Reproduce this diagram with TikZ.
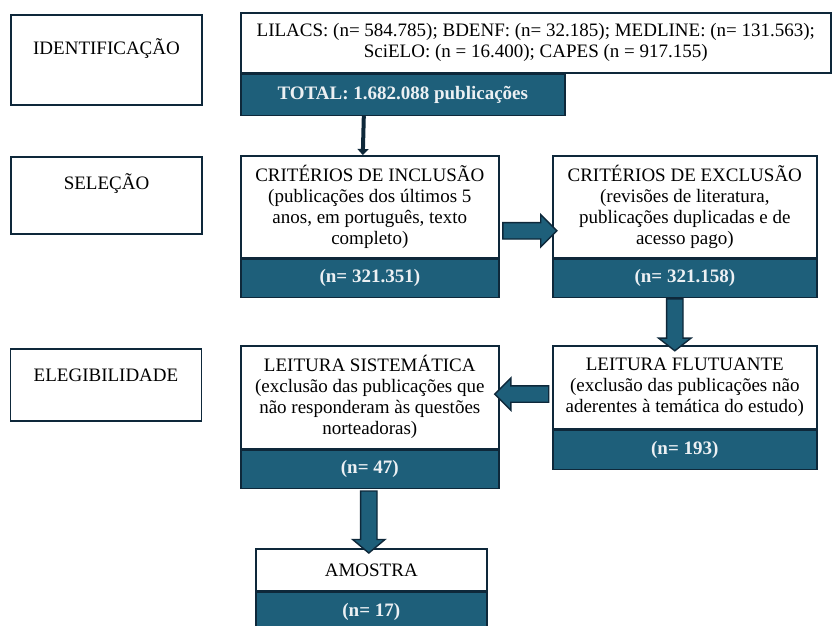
\documentclass[tikz,border=0pt]{standalone}
\usepackage{fontspec}
\setmainfont{Liberation Serif}
\usetikzlibrary{positioning,calc,shapes.arrows,arrows.meta}

\definecolor{barblue}{RGB}{30,95,122}
\definecolor{edgenavy}{RGB}{14,40,58}
\definecolor{bartext}{RGB}{236,240,243}

\tikzset{
  stagebox/.style = {draw = edgenavy, line width = 1.6, fill = white, inner sep = 0pt,
                     minimum width = 191, anchor = north, text height = 33},
  infobox/.style  = {draw = edgenavy, line width = 1.6, fill = white, inner sep = 0pt,
                     align = center, anchor = north west},
  countbar/.style = {draw = edgenavy, line width = 1.6, fill = barblue, text = bartext,
                     inner sep = 0pt, font = \fontsize{19}{21}\selectfont\bfseries},
  blockarrow/.style = {single arrow, draw = edgenavy, fill = barblue, line width = 1.4,
                     inner xsep = 0pt, inner ysep = 7.5pt, single arrow head extend = 8pt,
                     single arrow head indent = 0pt}
}

\begin{document}
\begin{tikzpicture}[x = 1pt, y = -1pt, font = \fontsize{19}{21}\selectfont]
        \useasboundingbox (0,0) rectangle (832,626);

        % etapas
        \node [stagebox, text height = 40, text depth = 50] (ident) at (106.5,14) {IDENTIFICAÇÃO};
        \node [stagebox, text depth = 44] (sel) at (106.5,156) {SELEÇÃO};
        \node [stagebox, text depth = 39] (eleg) at (106,348) {ELEGIBILIDADE};

        % bases
        \node [infobox, minimum width = 590, minimum height = 60] (lil) at (240,12)
          {LILACS: (n= 584.785); BDENF: (n= 32.185); MEDLINE: (n= 131.563);\\
           SciELO: (n = 16.400); CAPES (n = 917.155)};
        \node [countbar, minimum width = 324, minimum height = 41, anchor = north west] (total)
          at (lil.south west) {TOTAL: 1.682.088 publicações};

        % criterios
        \node [infobox, minimum width = 258, minimum height = 102] (incl) at (240,155)
          {CRITÉRIOS DE INCLUSÃO\\(publicações dos últimos 5\\anos, em português, texto\\completo)};
        \node [countbar, minimum width = 258, minimum height = 38, below = 0pt of incl] (nincl) {(n= 321.351)};

        \node [infobox, minimum width = 264, minimum height = 102] (excl) at (552,155)
          {CRITÉRIOS DE EXCLUSÃO\\(revisões de literatura,\\publicações duplicadas e de\\acesso pago)};
        \node [countbar, minimum width = 264, minimum height = 38, below = 0pt of excl] (nexcl) {(n= 321.158)};

        % leituras
        \node [infobox, minimum width = 264, minimum height = 83] (flut) at (552,345)
          {LEITURA FLUTUANTE\\(exclusão das publicações não\\aderentes à temática do estudo)};
        \node [countbar, minimum width = 264, minimum height = 39, below = 0pt of flut] (nflut) {(n= 193)};

        \node [infobox, minimum width = 258, minimum height = 103] (sist) at (240,345)
          {LEITURA SISTEMÁTICA\\(exclusão das publicações que\\não responderam às questões\\norteadoras)};
        \node [countbar, minimum width = 258, minimum height = 38, below = 0pt of sist] (nsist) {(n= 47)};

        \node [infobox, minimum width = 231, minimum height = 42] (amos) at (255,548) {AMOSTRA};
        \node [countbar, minimum width = 231, minimum height = 40, below = 0pt of amos] (namos) {(n= 17)};

        % setas
        \draw [edgenavy, line width = 4, -{Triangle[width = 11pt, length = 6pt]}]
          ($(total.south)+(-39,0)$) -- ($(incl.north)+(-7,0)$);
        \path ($(incl.east)+(0,24)$) -- ($(excl.west)+(0,24)$)
          node [midway, blockarrow, minimum height = 54] (a1) {};
        \path ($(nexcl.south)+(-10,0)$) -- ($(flut.north)+(-10,0)$)
          node [midway, blockarrow, rotate = -90, minimum height = 52, single arrow tip angle = 104] (a2) {};
        \path ($(flut.west)+(0,6.5)$) -- ($(sist.east)+(0,-3)$)
          node [midway, blockarrow, rotate = 180, minimum height = 54] (a3) {};
        \path ($(nsist.south)+(6,0)$) -- ($(amos.north)+(-9.5,0)$)
          node [midway, blockarrow, rotate = -90, minimum height = 62, single arrow tip angle = 100] (a4) {};
    \end{tikzpicture}
\end{document}
